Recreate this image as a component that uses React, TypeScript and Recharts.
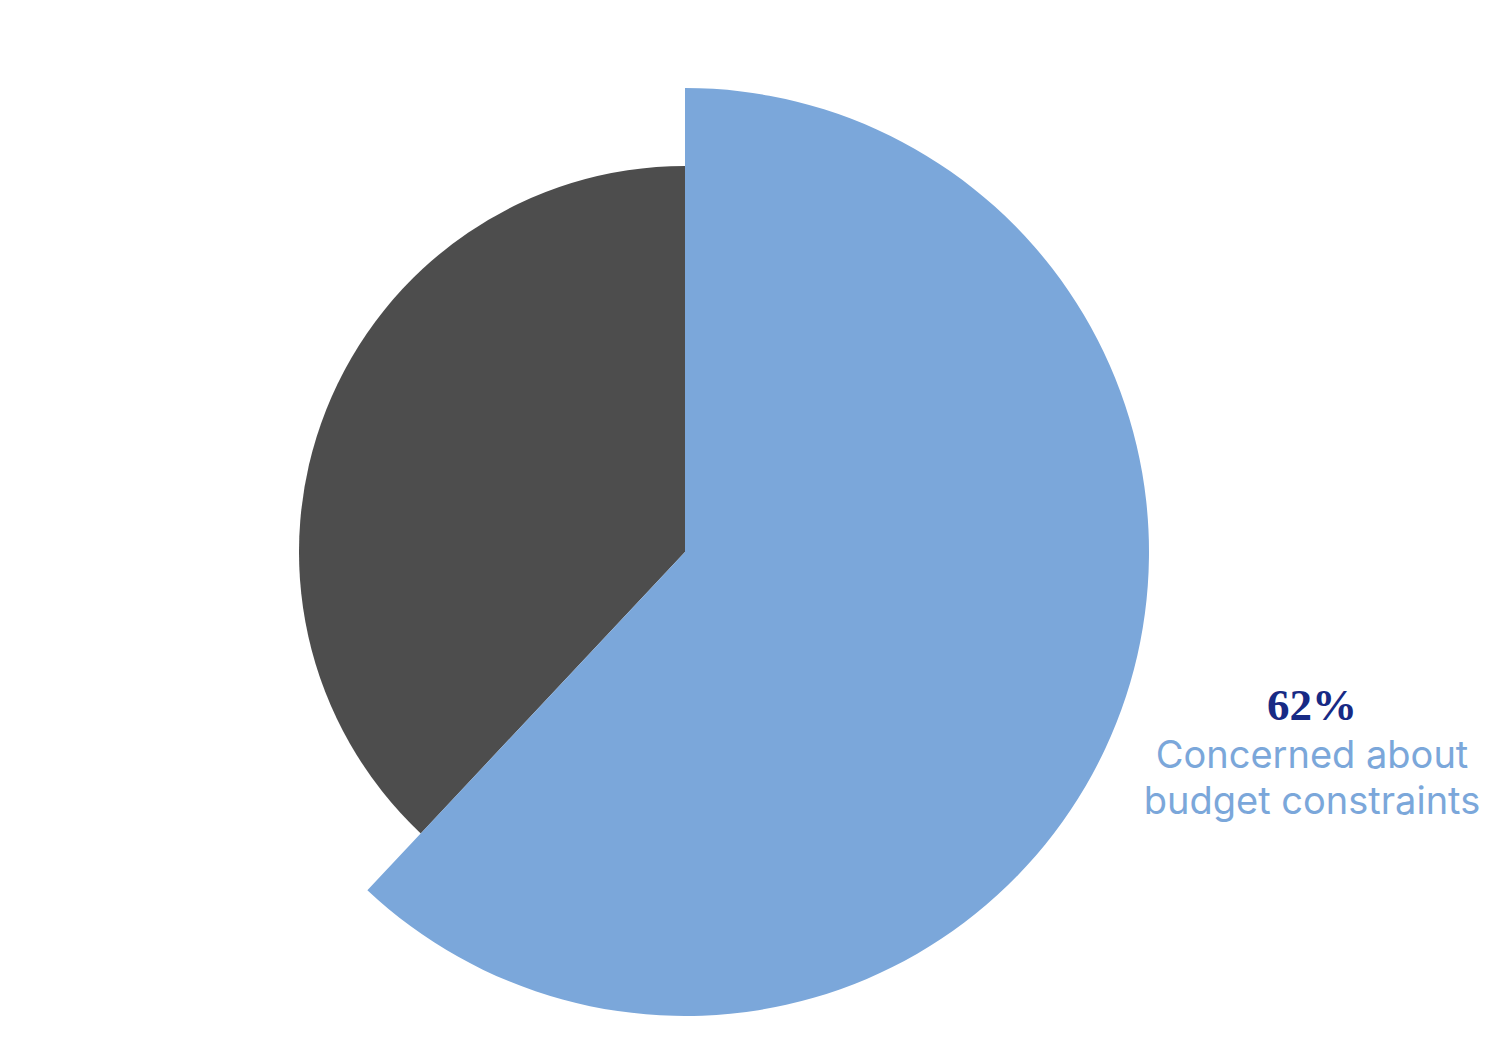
import React from "react";
import { PieChart, Pie, Cell } from "recharts";

const categories = ["Concerned about budget constraints", "Other"];
const values = [62, 38];
const sliceColors = ["#7BA7DA", "#4D4D4D"];
const labelLines = ["Concerned about", "budget constraints"];

const data = categories.map((name, i) => ({ name, value: values[i] }));

const CX = 685;
const CY = 552;

export default function App() {
  const renderLabel = (props: any) => {
    if (props.index !== 0) return null;
    const x = props.cx + 627;
    const y = props.cy + 168;
    return (
      <g>
        <text
          x={x}
          y={y}
          textAnchor="middle"
          fill="#172A85"
          style={{ fontFamily: "'Liberation Serif', 'Times New Roman', serif", fontWeight: 700, fontSize: 45 }}
        >
          {`${values[0]}%`}
        </text>
        {labelLines.map((line, i) => (
          <text
            key={line}
            x={x}
            y={y + 48 + i * 46}
            textAnchor="middle"
            fill="#7BA7DA"
            style={{ fontFamily: "Inter, 'Noto Sans', sans-serif", fontSize: 38 }}
          >
            {line}
          </text>
        ))}
      </g>
    );
  };

  return (
    <div style={{ position: "absolute", left: 0, top: 0, width: 1500, height: 1055, background: "#fff" }}>
      <PieChart width={1500} height={1055} margin={{ top: 0, right: 0, bottom: 0, left: 0 }}>
        <Pie
          data={data}
          dataKey="value"
          cx={CX}
          cy={CY}
          startAngle={90}
          endAngle={-270}
          innerRadius={0}
          outerRadius={386}
          stroke="none"
          isAnimationActive={false}
          labelLine={false}
          label={false}
        >
          {data.map((d, i) => (
            <Cell key={`g-${i}`} fill={i === 1 ? sliceColors[1] : "transparent"} />
          ))}
        </Pie>
        <Pie
          data={data}
          dataKey="value"
          cx={CX}
          cy={CY}
          startAngle={90}
          endAngle={-270}
          innerRadius={0}
          outerRadius={464}
          stroke="none"
          isAnimationActive={false}
          labelLine={false}
          label={renderLabel}
        >
          {data.map((d, i) => (
            <Cell key={`b-${i}`} fill={i === 0 ? sliceColors[0] : "transparent"} />
          ))}
        </Pie>
      </PieChart>
    </div>
  );
}
